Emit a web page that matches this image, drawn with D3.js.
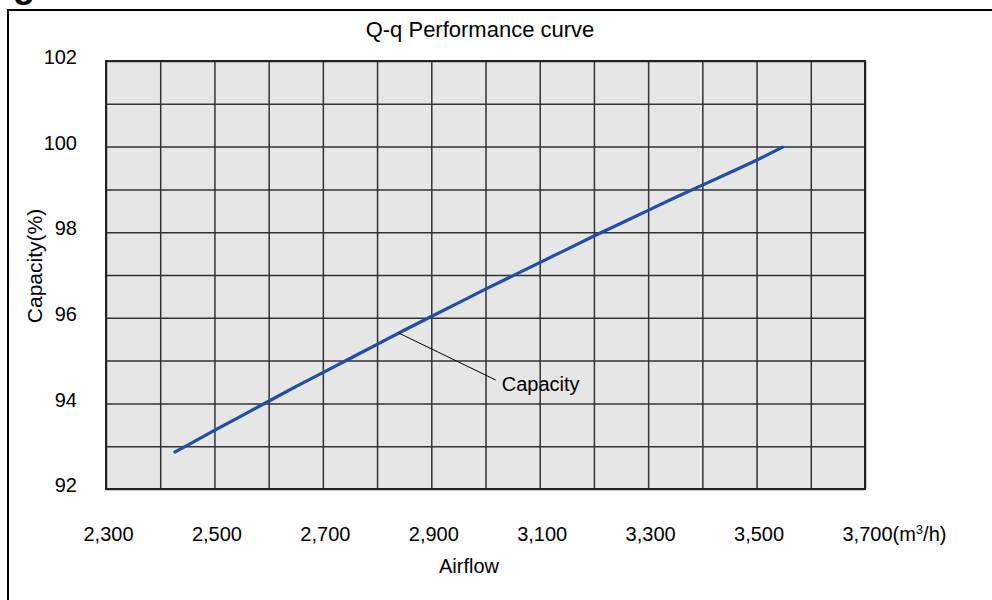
<!DOCTYPE html>
<html>
<head>
<meta charset="utf-8">
<script src="https://cdn.jsdelivr.net/npm/d3@7"></script>
<style>
  html, body { margin: 0; padding: 0; background: #fff; }
  svg { display: block; font-family: "Liberation Sans", Arial, sans-serif; }
</style>
</head>
<body>
<svg id="chart" width="992" height="600"></svg>
<script>
// ---- data ----
const airflow  = [2425, 2450, 2500, 2550, 2600, 2650, 2700, 2750, 2800, 2850, 2900, 2950, 3000, 3050, 3100, 3150, 3200, 3250, 3300, 3350, 3400, 3450, 3500, 3550];
const capacity = [92.85, 93.02, 93.37, 93.71, 94.05, 94.39, 94.72, 95.05, 95.38, 95.71, 96.03, 96.35, 96.67, 96.98, 97.29, 97.6, 97.91, 98.21, 98.51, 98.81, 99.1, 99.39, 99.68, 100.0];
const xTickLabels = [2300, 2500, 2700, 2900, 3100, 3300, 3500, 3700];
const yTickLabels = [92, 94, 96, 98, 100, 102];
const xGrid = d3.range(2300, 3701, 100);
const yGrid = d3.range(92, 102.1, 1);
const titleText = "Q-q Performance curve";
const xTitle = "Airflow";
const yTitle = "Capacity(%)";
const seriesName = "Capacity";
const annotateAt = 2840;

// ---- layout ----
const svg = d3.select("#chart");
const L = 106, R = 865, T = 61, B = 489;
const x = d3.scaleLinear().domain([2300, 3700]).range([L, R]);
const y = d3.scaleLinear().domain([92, 102]).range([B, T]);

// outer frame (extends beyond the canvas)
svg.append("rect").attr("x", 8).attr("y", 10).attr("width", 1100).attr("height", 700)
  .attr("fill", "none").attr("stroke", "#000").attr("stroke-width", 2);
// cut-off heading glyph
svg.append("text").attr("x", 13).attr("y", -3).attr("font-size", 36).attr("font-weight", "bold")
  .attr("fill", "#000").text("g");

// plot background
svg.append("rect").attr("x", L).attr("y", T).attr("width", R - L).attr("height", B - T)
  .attr("fill", "#e6e6e6");

// grid
const gx = svg.append("g").attr("transform", `translate(0,${B})`)
  .call(d3.axisBottom(x).tickValues(xGrid).tickSize(-(B - T)).tickFormat(""));
gx.select(".domain").remove();
gx.selectAll(".tick line").attr("stroke", "#333").attr("stroke-width", 1.5);
const gy = svg.append("g").attr("transform", `translate(${L},0)`)
  .call(d3.axisLeft(y).tickValues(yGrid).tickSize(-(R - L)).tickFormat(""));
gy.select(".domain").remove();
gy.selectAll(".tick line").attr("stroke", "#333").attr("stroke-width", 1.5);

// plot border
svg.append("rect").attr("x", L).attr("y", T).attr("width", R - L).attr("height", B - T)
  .attr("fill", "none").attr("stroke", "#222").attr("stroke-width", 2);

// y tick labels
const ay = svg.append("g").attr("transform", `translate(${L},0)`)
  .call(d3.axisLeft(y).tickValues(yTickLabels).tickSize(0).tickPadding(29).tickFormat(d3.format("d")));
ay.select(".domain").remove();
ay.selectAll("text").attr("font-size", 20).attr("font-family", "Liberation Sans, Arial, sans-serif")
  .attr("fill", "#000").attr("dy", "0.13em");

// x tick labels
const fmt = d3.format(",");
const ax = svg.append("g").attr("transform", `translate(0,${B})`)
  .call(d3.axisBottom(x).tickValues(xTickLabels).tickSize(0).tickFormat(fmt));
ax.select(".domain").remove();
ax.selectAll("text").attr("font-size", 20).attr("font-family", "Liberation Sans, Arial, sans-serif")
  .attr("fill", "#000").attr("y", 52).attr("dy", 0).attr("x", 2);
// unit after last label
const lastTick = ax.selectAll(".tick").filter(d => d === xTickLabels[xTickLabels.length - 1]);
const lastText = lastTick.select("text");
const w = lastText.node().getComputedTextLength();
lastText.attr("text-anchor", "start").attr("x", 2 - w / 2);
lastText.append("tspan").text("(m");
lastText.append("tspan").attr("font-size", 13).attr("dy", -7).text("3");
lastText.append("tspan").attr("dy", 7).text("/h)");

// title
svg.append("text").attr("x", 480).attr("y", 37).attr("text-anchor", "middle")
  .attr("font-size", 22).attr("fill", "#000").text(titleText);
// axis titles
svg.append("text").attr("x", 469).attr("y", 573).attr("text-anchor", "middle")
  .attr("font-size", 20).attr("fill", "#000").text(xTitle);
svg.append("text").attr("transform", "translate(42,266) rotate(-90)").attr("text-anchor", "middle")
  .attr("font-size", 21).attr("fill", "#000").text(yTitle);

// series line
const data = airflow.map((a, i) => ({ a, c: capacity[i] }));
svg.append("path").datum(data)
  .attr("fill", "none").attr("stroke", "#1f4fa8").attr("stroke-width", 3.2)
  .attr("stroke-linejoin", "round")
  .attr("d", d3.line().x(d => x(d.a)).y(d => y(d.c)));

// annotation
const capAt = d3.scaleLinear().domain(airflow).range(capacity)(annotateAt);
const px = x(annotateAt), py = y(capAt);
svg.append("line").attr("x1", px).attr("y1", py).attr("x2", px + 97).attr("y2", py + 47)
  .attr("stroke", "#000").attr("stroke-width", 1);
svg.append("text").attr("x", px + 103).attr("y", py + 58).attr("font-size", 20)
  .attr("fill", "#000").text(seriesName);
</script>
</body>
</html>
